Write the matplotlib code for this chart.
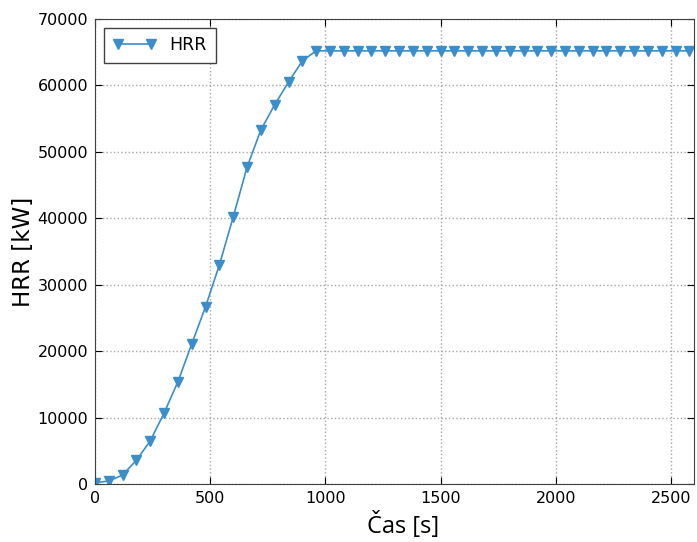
import matplotlib.pyplot as plt

# time [s] and heat release rate [kW], one point every 60 s
time_s = [0, 60, 120, 180, 240, 300, 360, 420, 480, 540, 600, 660, 720, 780, 840, 900, 960,
          1020, 1080, 1140, 1200, 1260, 1320, 1380, 1440, 1500, 1560, 1620, 1680, 1740, 1800,
          1860, 1920, 1980, 2040, 2100, 2160, 2220, 2280, 2340, 2400, 2460, 2520, 2580]
hrr_kw = [200, 450, 1350, 3600, 6500, 10700, 15400, 21100, 26700, 33000, 40200, 47700, 53300,
          57100, 60500, 63700, 65200,
          65200, 65200, 65200, 65200, 65200, 65200, 65200, 65200, 65200, 65200, 65200, 65200,
          65200, 65200, 65200, 65200, 65200, 65200, 65200, 65200, 65200, 65200, 65200, 65200,
          65200, 65200, 65200]

line_color = "#3b8ec9"

fig = plt.figure(figsize=(6.97, 5.42), dpi=100)
ax = fig.add_axes([0.1363, 0.107, 0.8594, 0.858])

ax.plot(time_s, hrr_kw, ls="-", lw=1.2, color=line_color, marker="v", ms=7,
        mec=line_color, mfc=line_color, label="HRR")

ax.set_xlim(0, 2600)
ax.set_ylim(0, 70000)
ax.set_xticks([0, 500, 1000, 1500, 2000, 2500])
ax.set_yticks(range(0, 70001, 10000))

ax.grid(True, ls=":", color="0.65", lw=1)
ax.tick_params(direction="in", top=True, right=True, labelsize=11.5, length=5, pad=5)
for sp in ax.spines.values():
    sp.set_color("0.25")

ax.set_ylabel("HRR [kW]", fontsize=16.5, labelpad=2)
ax.set_xlabel("Čas [s]", fontsize=17, family=["Open Sans", "DejaVu Sans"], labelpad=4)
ax.xaxis.label.set_x(0.515)

leg = ax.legend(loc="upper left", numpoints=2, fancybox=False, fontsize=12.5,
                edgecolor="0.25", framealpha=1, handlelength=2.5, borderpad=0.5)
leg.get_frame().set_linewidth(1)

fig.savefig("out.png", dpi=100)
